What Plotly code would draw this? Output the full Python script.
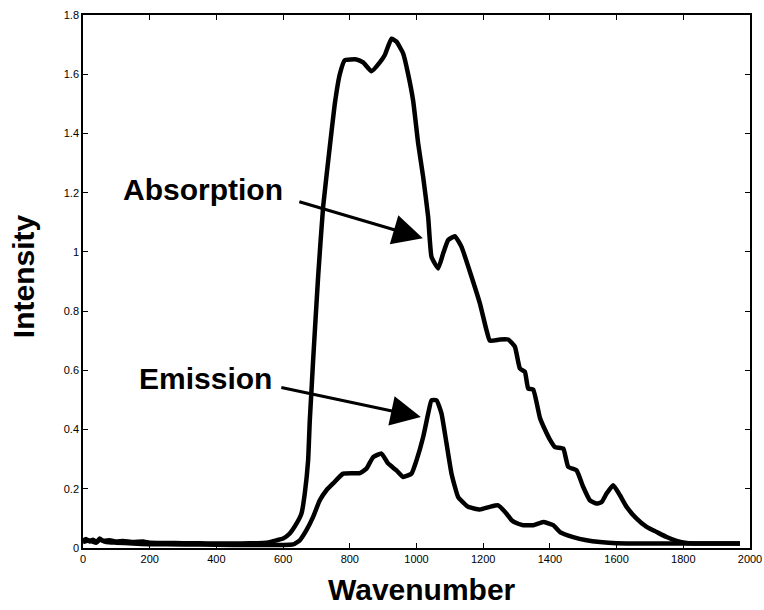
import plotly.graph_objects as go

# Absorption spectrum (wavenumber, intensity)
abs_x = [0, 10, 20, 30, 40, 50, 60, 80, 100, 120, 150, 180, 200, 250, 300, 350, 400, 450, 500, 540,
         560, 580, 600, 620, 640, 655, 665, 675, 680, 685, 690, 705, 720, 740, 755, 770, 785, 820,
         840, 865, 890, 905, 925, 940, 960, 975, 990, 1005, 1020, 1035, 1045, 1065, 1080, 1095, 1115,
         1135, 1165, 1190, 1210, 1220, 1250, 1275, 1295, 1310, 1325, 1335, 1350, 1370, 1385, 1400,
         1415, 1440, 1455, 1480, 1500, 1520, 1540, 1555, 1570, 1590, 1610, 1630, 1660, 1690, 1720,
         1750, 1780, 1810, 1850, 1900, 1970]
abs_y = [0.025, 0.030, 0.022, 0.028, 0.020, 0.032, 0.024, 0.026, 0.022, 0.024, 0.020, 0.022, 0.018,
         0.017, 0.016, 0.016, 0.015, 0.015, 0.016, 0.017, 0.020, 0.026, 0.032, 0.049, 0.082, 0.116,
         0.184, 0.296, 0.430, 0.530, 0.634, 0.916, 1.152, 1.355, 1.500, 1.600, 1.647, 1.650, 1.640,
         1.610, 1.640, 1.665, 1.720, 1.710, 1.670, 1.600, 1.510, 1.366, 1.253, 1.118, 0.983, 0.944,
         0.995, 1.040, 1.053, 1.017, 0.916, 0.826, 0.735, 0.700, 0.704, 0.704, 0.680, 0.606, 0.595,
         0.538, 0.535, 0.440, 0.400, 0.366, 0.341, 0.336, 0.274, 0.262, 0.206, 0.161, 0.150, 0.155,
         0.184, 0.212, 0.178, 0.139, 0.099, 0.071, 0.054, 0.037, 0.024, 0.017, 0.015, 0.015, 0.015]

# Emission spectrum (wavenumber, intensity)
em_x = [0, 20, 40, 50, 70, 100, 150, 200, 300, 400, 500, 600, 630, 650, 670, 690, 710, 730, 750, 780,
        830, 850, 870, 895, 915, 940, 960, 985, 1000, 1020, 1035, 1045, 1060, 1075, 1090, 1105, 1125,
        1155, 1190, 1220, 1245, 1270, 1285, 1305, 1320, 1350, 1380, 1410, 1430, 1470, 1510, 1550, 1600,
        1700, 1800, 1970]
em_y = [0.020, 0.025, 0.018, 0.028, 0.020, 0.018, 0.015, 0.013, 0.012, 0.011, 0.010, 0.010, 0.012,
        0.026, 0.060, 0.105, 0.161, 0.195, 0.218, 0.251, 0.253, 0.268, 0.307, 0.319, 0.285, 0.262,
        0.240, 0.251, 0.296, 0.375, 0.454, 0.499, 0.499, 0.454, 0.353, 0.251, 0.172, 0.139, 0.130,
        0.139, 0.144, 0.116, 0.094, 0.082, 0.077, 0.077, 0.088, 0.077, 0.054, 0.037, 0.026, 0.020,
        0.016, 0.015, 0.015, 0.015]

x_ticks = [0, 200, 400, 600, 800, 1000, 1200, 1400, 1600, 1800, 2000]
x_tick_labels = ["0", "200", "400", "600", "800", "1000", "1200", "1400", "1600", "1800", "2000"]
y_ticks = [0, 0.2, 0.4, 0.6, 0.8, 1.0, 1.2, 1.4, 1.6, 1.8]
y_tick_labels = ["0", "0.2", "0.4", "0.6", "0.8", "1", "1.2", "1.4", "1.6", "1.8"]

FONT = "Arial, 'Liberation Sans', sans-serif"

fig = go.Figure()
fig.add_trace(go.Scatter(x=abs_x, y=abs_y, mode="lines", name="Absorption",
                         line=dict(color="black", width=4.5, shape="spline", smoothing=0.4)))
fig.add_trace(go.Scatter(x=em_x, y=em_y, mode="lines", name="Emission",
                         line=dict(color="black", width=4.5, shape="spline", smoothing=0.4)))

axis_common = dict(showline=True, linecolor="black", linewidth=1.5, mirror="ticks",
                   ticks="inside", ticklen=5, tickwidth=1, tickcolor="black",
                   showgrid=False, zeroline=False, ticklabeloverflow="allow",
                   automargin=False,
                   tickfont=dict(family=FONT, size=11, color="black"))

fig.update_layout(
    width=764, height=610,
    margin=dict(l=83, r=14, t=15, b=62, autoexpand=False),
    paper_bgcolor="white", plot_bgcolor="white",
    showlegend=False,
    xaxis=dict(range=[0, 2000], tickvals=x_ticks, ticktext=x_tick_labels, **axis_common),
    yaxis=dict(range=[0, 1.8], tickvals=y_ticks, ticktext=y_tick_labels, **axis_common),
)

# Axis titles
fig.add_annotation(text="<b>Wavenumber</b>", xref="paper", yref="paper", x=0.508, y=-0.078,
                   xanchor="center", yanchor="middle", showarrow=False,
                   font=dict(family=FONT, size=30, color="black"))
fig.add_annotation(text="<b>Intensity</b>", xref="paper", yref="paper", x=-0.09, y=0.51,
                   xanchor="center", yanchor="middle", showarrow=False, textangle=-90,
                   font=dict(family=FONT, size=30, color="black"))

# Labels with arrows
fig.add_annotation(text="<b>Absorption</b>", x=361, y=1.21, xref="x", yref="y",
                   showarrow=False, font=dict(family=FONT, size=30, color="black"))
fig.add_annotation(text="<b>Emission</b>", x=366, y=0.572, xref="x", yref="y",
                   showarrow=False, font=dict(family=FONT, size=30, color="black"))
fig.add_annotation(text="", x=1019, y=1.046, xref="x", yref="y", ax=-125, ay=-37,
                   showarrow=True, arrowhead=2, arrowsize=2.0, arrowwidth=3, arrowcolor="black")
fig.add_annotation(text="", x=1013, y=0.442, xref="x", yref="y", ax=-141, ay=-30,
                   showarrow=True, arrowhead=2, arrowsize=2.0, arrowwidth=3, arrowcolor="black")

fig.write_html("out.html")
